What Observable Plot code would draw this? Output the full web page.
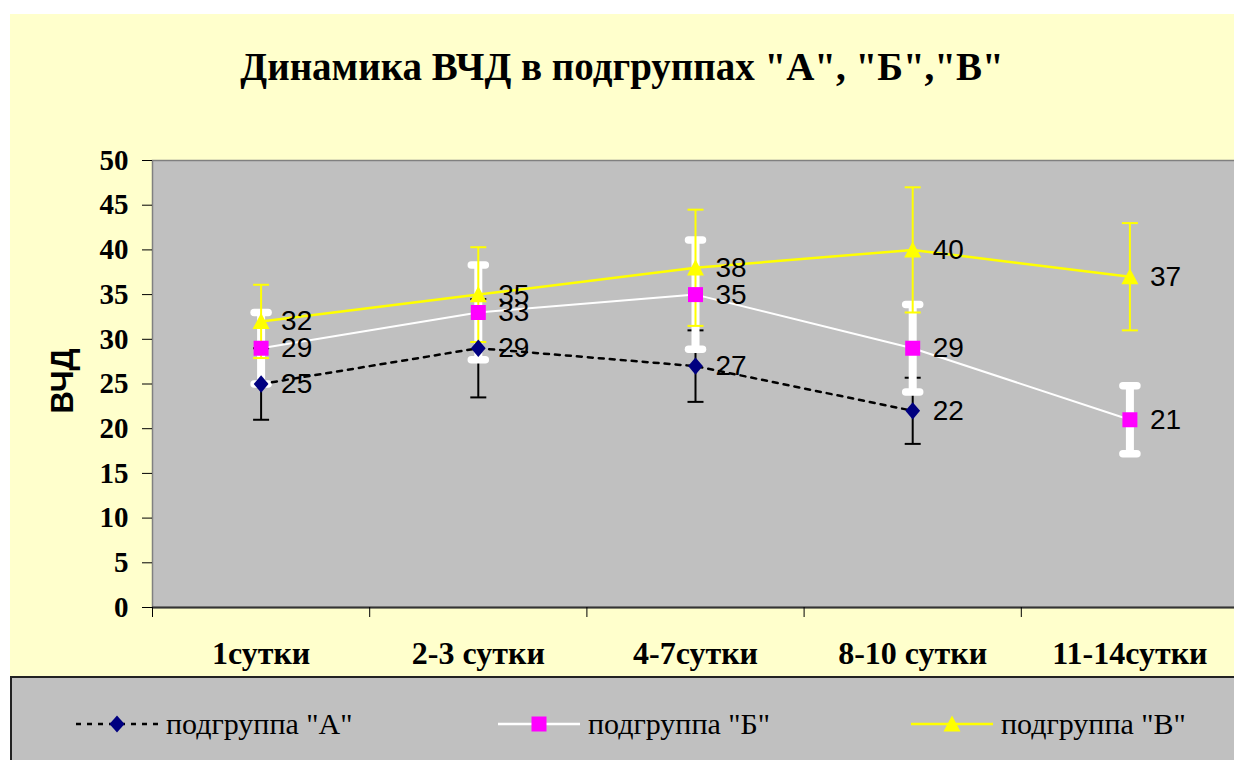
<!DOCTYPE html>
<html>
<head>
<meta charset="utf-8">
<script src="https://cdn.jsdelivr.net/npm/d3@7"></script>
<script src="https://cdn.jsdelivr.net/npm/@observablehq/plot@0.6"></script>
<style>
html, body { margin: 0; padding: 0; background: #fff; overflow: hidden; }
#root { position: relative; width: 1234px; height: 760px; overflow: hidden; background: #fff; }
#panel { position: absolute; left: 10px; top: 14px; width: 1230px; height: 662px; background: #FFFFCC; }
#title { position: absolute; left: 10px; width: 1224px; top: 43px; height: 48px; line-height: 48px; text-align: center;
  font-family: "Liberation Serif", "Times New Roman", "DejaVu Serif", serif; font-weight: bold; font-size: 39px; color: #000; white-space: nowrap; }
#chart { position: absolute; left: 0; top: 0; }
#ylabel { position: absolute; left: 62px; top: 381px; transform: translate(-50%, -50%) rotate(-90deg);
  font-family: "Liberation Sans", Arial, sans-serif; font-weight: bold; font-size: 31px; line-height: 1; white-space: nowrap; color: #000; }
#legend { position: absolute; left: 10px; top: 676px; width: 1240px; height: 100px; background: #C0C0C0;
  border-top: 2px solid #222; border-left: 2px solid #222; box-sizing: border-box; }
.item { position: absolute; top: 28px; height: 36px; display: flex; align-items: center; white-space: nowrap;
  font-family: "Liberation Serif", "Times New Roman", serif; font-size: 30px; color: #000; }
.item svg { display: block; margin-right: 8px; }
</style>
</head>
<body>
<div id="root">
  <div id="panel"></div>
  <div id="title"></div>
  <div id="chart"></div>
  <div id="ylabel"></div>
  <div id="legend"></div>
</div>
<script>
// ---- data ----
const titleText = 'Динамика ВЧД в подгруппах "А", "Б","В"';
const yLabel = "ВЧД";
const categories = ["1сутки", "2-3 сутки", "4-7сутки", "8-10 сутки", "11-14сутки"];
const seriesNames = ['подгруппа "А"', 'подгруппа "Б"', 'подгруппа "В"'];
const valuesA = [25, 29, 27, 22, null];
const errorsA = [4, 5.5, 4, 3.7, null];
const valuesB = [29, 33, 35, 29, 21];
const errorsB = [4, 5.3, 6.1, 4.9, 3.8];
const valuesV = [32, 35, 38, 40, 37];
const errorsV = [4.1, 5.3, 6.5, 7, 6];
const yTicks = [0, 5, 10, 15, 20, 25, 30, 35, 40, 45, 50];

// ---- styles ----
const colA = "#000080", colB = "#FF00FF", colV = "#FFFF00";

function rows(values, errors, name) {
  const out = [];
  values.forEach((v, i) => {
    if (v == null) return;
    out.push({series: name, x: i + 0.5, v, lo: v - errors[i], hi: v + errors[i]});
  });
  return out;
}
const dataA = rows(valuesA, errorsA, seriesNames[0]);
const dataB = rows(valuesB, errorsB, seriesNames[1]);
const dataV = rows(valuesV, errorsV, seriesNames[2]);

// custom symbols
const capSym = {draw(ctx, size) { const r = Math.sqrt(size / Math.PI); ctx.moveTo(-r, 0); ctx.lineTo(r, 0); }};
const diamondSym = {draw(ctx, size) { const r = Math.sqrt(size / Math.PI);
  ctx.moveTo(0, -r * 1.08); ctx.lineTo(r * 0.92, 0); ctx.lineTo(0, r * 1.08); ctx.lineTo(-r * 0.92, 0); ctx.closePath(); }};
const squareSym = {draw(ctx, size) { const r = Math.sqrt(size / Math.PI); ctx.rect(-r, -r, 2 * r, 2 * r); }};
const triSym = {draw(ctx, size) { const r = Math.sqrt(size / Math.PI);
  ctx.moveTo(0, -r); ctx.lineTo(r, r * 0.9); ctx.lineTo(-r, r * 0.9); ctx.closePath(); }};

function errorMarks(data, color, width, capR, capWidth, linecap) {
  return [
    Plot.ruleX(data, {x: "x", y1: "lo", y2: "hi", stroke: color, strokeWidth: width}),
    Plot.dot(data, {x: "x", y: "lo", symbol: capSym, r: capR, stroke: color, fill: "none", strokeWidth: capWidth, strokeLinecap: linecap}),
    Plot.dot(data, {x: "x", y: "hi", symbol: capSym, r: capR, stroke: color, fill: "none", strokeWidth: capWidth, strokeLinecap: linecap})
  ];
}
const labelOpts = {x: "x", y: "v", text: d => String(d.v), dx: 20, textAnchor: "start", lineAnchor: "middle",
  fontSize: 28, fontFamily: "Liberation Sans, Arial, sans-serif", fill: "#000"};

const chart = Plot.plot({
  width: 1240, height: 676,
  marginLeft: 152, marginRight: 2, marginTop: 160, marginBottom: 69,
  style: {background: "transparent", maxWidth: "none", overflow: "visible"},
  x: {domain: [0, 5]},
  y: {domain: [0, 50]},
  marks: [
    Plot.frame({fill: "#C0C0C0", stroke: "#808080", strokeWidth: 1.5}),
    Plot.ruleY([0], {stroke: "#333", strokeWidth: 2}),
    Plot.axisY({ticks: yTicks, tickSize: 10, tickPadding: 14, stroke: "#000", color: "#000",
      fontSize: 29, fontWeight: "bold", fontFamily: "Liberation Serif, Times New Roman, serif", label: null}),
    Plot.axisX({ticks: [0, 1, 2, 3, 4, 5], tickSize: 10, tickFormat: () => "", stroke: "#000", label: null}),
    Plot.axisX({ticks: categories.map((d, i) => i + 0.5), tickFormat: d => categories[Math.round(d - 0.5)],
      tickSize: 0, tickPadding: 34, color: "#000",
      fontSize: 32, fontWeight: "bold", fontFamily: "Liberation Serif, Times New Roman, serif", label: null}),
    ...errorMarks(dataA, "#000", 2, 8, 2, "butt"),
    ...errorMarks(dataB, "#FFFFFF", 8, 7, 7.5, "round"),
    ...errorMarks(dataV, colV, 2, 8, 2, "butt"),
    Plot.line(dataA, {x: "x", y: "v", stroke: "#000", strokeWidth: 2.5, strokeDasharray: "5,6"}),
    Plot.line(dataB, {x: "x", y: "v", stroke: "#FFFFFF", strokeWidth: 2}),
    Plot.line(dataV, {x: "x", y: "v", stroke: colV, strokeWidth: 2.5}),
    Plot.dot(dataA, {x: "x", y: "v", symbol: diamondSym, r: 8, fill: colA, stroke: "none"}),
    Plot.dot(dataB, {x: "x", y: "v", symbol: squareSym, r: 7.5, fill: colB, stroke: "none"}),
    Plot.dot(dataV, {x: "x", y: "v", symbol: triSym, r: 8.5, fill: colV, stroke: "none"}),
    Plot.text(dataA, labelOpts),
    Plot.text(dataB, labelOpts),
    Plot.text(dataV, labelOpts)
  ]
});
document.getElementById("chart").appendChild(chart);
document.getElementById("title").textContent = titleText;
document.getElementById("ylabel").textContent = yLabel;

// ---- legend ----
const legend = d3.select("#legend");
const legendItems = [
  {name: seriesNames[0], left: 64, line: "#000", dash: "5,6", sym: "diamond", fill: colA},
  {name: seriesNames[1], left: 486, line: "#FFFFFF", dash: null, sym: "square", fill: colB},
  {name: seriesNames[2], left: 899, line: colV, dash: null, sym: "triangle", fill: colV}
];
legendItems.forEach(it => {
  const div = legend.append("div").attr("class", "item").style("left", it.left + "px");
  const svg = div.append("svg").attr("width", 82).attr("height", 24);
  svg.append("line").attr("x1", 0).attr("x2", 82).attr("y1", 12).attr("y2", 12)
    .attr("stroke", it.line).attr("stroke-width", 2.5).attr("stroke-dasharray", it.dash);
  const cx = 41, cy = 12;
  if (it.sym === "diamond") svg.append("path").attr("d", `M${cx},${cy-8.5}L${cx+7.5},${cy}L${cx},${cy+8.5}L${cx-7.5},${cy}Z`).attr("fill", it.fill);
  if (it.sym === "square") svg.append("rect").attr("x", cx - 7.5).attr("y", cy - 7.5).attr("width", 15).attr("height", 15).attr("fill", it.fill);
  if (it.sym === "triangle") svg.append("path").attr("d", `M${cx},${cy-8.5}L${cx+8.5},${cy+7.5}L${cx-8.5},${cy+7.5}Z`).attr("fill", it.fill);
  div.append("span").text(it.name);
});
</script>
</body>
</html>
